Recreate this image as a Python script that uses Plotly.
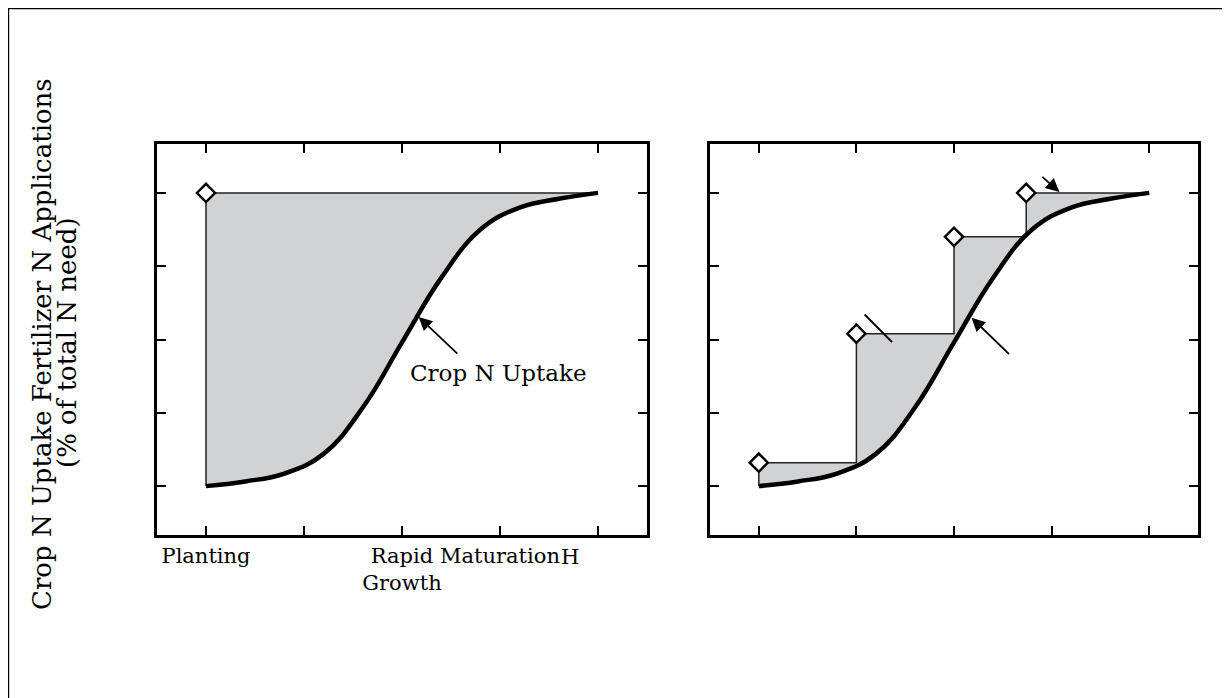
import plotly.graph_objects as go

# ---- data ----
tick_vals = [0, 1, 2, 3, 4]
tick_text = ["Planting", "", "Rapid<br>Growth", "Maturation", ""]
y_tick_vals = [0, 25, 50, 75, 100]

# crop N uptake curve (% of total need) vs growth stage
uptake_x = [0, 0.4, 0.8, 1.2, 1.6, 2.0, 2.4, 2.8, 3.2, 3.6, 4.0]
uptake_y = [0, 1.6, 4.3, 11, 26.8, 49, 71, 87.5, 95, 98, 100]

# single pre-plant application (left panel)
single_x = [0]
single_y = [100]

# split applications (right panel), cumulative %
split_x = [0, 1, 2, 2.74]
split_y = [8, 52, 85, 100]

FONT = "DejaVu Serif"
FILL = "rgb(209,210,212)"

fig = go.Figure()


def add_panel(app_x, app_y, xa, ya):
    end_x = uptake_x[-1]
    step_x = [uptake_x[0]] + app_x + [end_x]
    step_y = [uptake_y[0]] + app_y + [app_y[-1]]
    fig.add_trace(go.Scatter(x=step_x, y=step_y, mode="lines", line=dict(color="#222", width=1.5, shape="hv"),
                             xaxis=xa, yaxis=ya, showlegend=False, hoverinfo="skip"))
    fig.add_trace(go.Scatter(x=uptake_x, y=uptake_y, mode="lines",
                             line=dict(color="black", width=4.5, shape="spline", smoothing=1.2),
                             fill="tonexty", fillcolor=FILL,
                             xaxis=xa, yaxis=ya, showlegend=False))
    fig.add_trace(go.Scatter(x=app_x, y=app_y, mode="markers",
                             marker=dict(symbol="diamond", size=14, color="white", line=dict(color="black", width=2.4)),
                             xaxis=xa, yaxis=ya, showlegend=False, cliponaxis=False))


add_panel(single_x, single_y, "x", "y")
add_panel(split_x, split_y, "x2", "y2")

W, H = 1230, 698
OFF = 8  # page body margin


def px_x(p):
    return (p - OFF) / W


def px_y(p):
    return (H - (p - OFF)) / H


axis_common = dict(showline=True, linecolor="black", linewidth=2.5, mirror="ticks",
                   ticks="inside", ticklen=9, tickwidth=2, tickcolor="black",
                   showgrid=False, zeroline=False, fixedrange=True)
yr = [-16.67, 116.67]
xr = [-0.5, 4.5]

fig.update_layout(
    width=W, height=H,
    margin=dict(l=0, r=0, t=0, b=0),
    paper_bgcolor="white", plot_bgcolor="white",
    font=dict(family=FONT, color="black", size=21),
    xaxis=dict(domain=[px_x(157), px_x(647)], range=xr, tickvals=tick_vals, ticktext=tick_text,
               tickangle=0, tickfont=dict(family=FONT, size=21), anchor="y", **axis_common),
    yaxis=dict(domain=[px_y(535), px_y(144)], range=yr, tickvals=y_tick_vals, showticklabels=False,
               anchor="x", **axis_common),
    xaxis2=dict(domain=[px_x(710), px_x(1198)], range=xr, tickvals=tick_vals, showticklabels=False,
                anchor="y2", **axis_common),
    yaxis2=dict(domain=[px_y(535), px_y(144)], range=yr, tickvals=y_tick_vals, showticklabels=False,
                anchor="x2", **axis_common),
)

ann = []
# y-axis title (two lines)
ann.append(dict(xref="paper", yref="paper", x=px_x(42), y=px_y(344), xanchor="center", yanchor="middle",
                textangle=-90, text="Crop N Uptake Fertilizer N Applications",
                showarrow=False, font=dict(family=FONT, size=26)))
ann.append(dict(xref="paper", yref="paper", x=px_x(67), y=px_y(343), xanchor="center", yanchor="middle",
                textangle=-90, text="(% of total N need)",
                showarrow=False, font=dict(family=FONT, size=26)))
# truncated "H" label after Maturation
ann.append(dict(xref="x", yref="paper", x=3.6, y=px_y(543), xanchor="left", yanchor="top",
                text="H", showarrow=False, font=dict(family=FONT, size=21)))
# left panel label + arrow
ann.append(dict(xref="x", yref="y", x=2.98, y=38.5, text="Crop N Uptake", showarrow=False,
                font=dict(family=FONT, size=23)))
arrow_style = dict(text="", showarrow=True, arrowhead=2, arrowsize=1.5, arrowwidth=1.8,
                   arrowcolor="black", standoff=0)
ann.append(dict(xref="x", yref="y", axref="x", ayref="y", x=2.17, y=57.7, ax=2.58, ay=44.7, **arrow_style))
# right panel arrows
ann.append(dict(xref="x2", yref="y2", axref="x2", ayref="y2", x=1.084, y=58.5, ax=1.381, ay=48.6,
                text="", showarrow=True, arrowhead=0, arrowwidth=2, arrowcolor="black"))
ann.append(dict(xref="x2", yref="y2", axref="x2", ayref="y2", x=2.18, y=57.4, ax=2.58, ay=44.5, **arrow_style))
ann.append(dict(xref="x2", yref="y2", axref="x2", ayref="y2", x=3.08, y=100.3, ax=2.89, ay=105.9, **arrow_style))
fig.update_layout(annotations=ann)

# outer frame (only top and left edges visible in the picture)
fig.add_shape(type="rect", xref="paper", yref="paper", x0=0.6 / W, x1=1.05, y0=-0.05, y1=1 - 0.6 / H,
              line=dict(color="black", width=1.2), fillcolor="rgba(0,0,0,0)", layer="below")

fig.write_html("out.html")
